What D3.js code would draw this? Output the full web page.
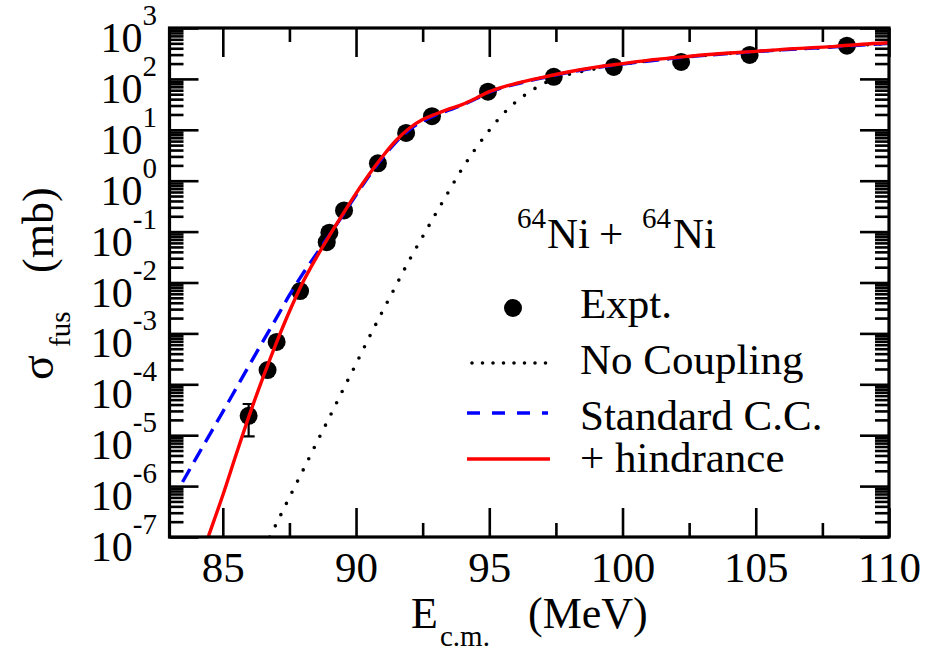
<!DOCTYPE html>
<html>
<head>
<meta charset="utf-8">
<script src="https://cdn.jsdelivr.net/npm/d3@7"></script>
<style>
  html, body { margin: 0; padding: 0; background: #fff; }
  svg { display: block; }
  text { font-family: "Liberation Serif", "Times New Roman", serif; fill: #000; }
</style>
</head>
<body>
<svg id="chart" width="933" height="656"></svg>
<script>
// ---------------- data ----------------
const xMajorTicks = [85, 90, 95, 100, 105, 110];
const xMinorTicks = [87.5, 92.5, 97.5, 102.5, 107.5];
const yExponents = [-7, -6, -5, -4, -3, -2, -1, 0, 1, 2, 3];

// experimental points
const exptE     = [85.97, 86.68, 87.02, 87.9, 88.9, 89.0, 89.55, 90.82, 91.88, 92.85, 94.95, 97.42, 99.67, 102.2, 104.77, 108.42];
const exptSigma = [2.4e-5, 1.9e-4, 6.8e-4, 6.8e-3, 0.062, 0.095, 0.26, 2.2, 8.7, 18.5, 56, 110, 172, 215, 295, 450];
// error bar on the lowest point
const errE = [85.97];
const errLow = [9.5e-6];
const errHigh = [4.1e-5];

// No coupling (log10 sigma)
const noCoupE    = [86.76, 87, 87.5, 88, 88.5, 89, 89.5, 90, 90.5, 91, 91.5, 92, 92.5, 93, 93.5, 94, 94.5, 95, 95.5, 96, 96.5, 97, 97.5, 98, 98.5, 99, 99.5, 100, 102, 104, 106, 108, 110];
const noCoupLog  = [-7.0, -6.75, -6.22, -5.7, -5.17, -4.65, -4.12, -3.6, -3.07, -2.56, -2.06, -1.56, -1.1, -0.64, -0.19, 0.25, 0.64, 0.99, 1.3, 1.55, 1.74, 1.9, 2.01, 2.09, 2.15, 2.2, 2.25, 2.29, 2.41, 2.5, 2.57, 2.63, 2.70];

// Standard C.C.
const stdE   = [83.49, 84, 85, 86, 86.5, 87, 87.5, 88, 88.5, 89, 89.5, 90, 90.5, 91, 91.5, 92, 92.5, 93, 93.5, 94, 94.5, 95, 95.5, 96, 97, 98, 99, 100, 102, 104, 106, 108, 110];
const stdLog = [-5.92, -5.45, -4.54, -3.62, -3.16, -2.71, -2.25, -1.83, -1.45, -1.07, -0.68, -0.28, 0.1, 0.45, 0.76, 1.0, 1.17, 1.29, 1.39, 1.49, 1.61, 1.74, 1.83, 1.9, 2.02, 2.13, 2.22, 2.29, 2.41, 2.5, 2.57, 2.63, 2.70];

// + hindrance
const hinE   = [84.3, 84.45, 85, 85.5, 86, 86.5, 87, 87.5, 88, 88.5, 89, 89.5, 90, 90.5, 91, 91.5, 92, 92.5, 93, 93.5, 94, 94.5, 95, 95.5, 96, 97, 98, 99, 100, 101, 102, 103, 104, 105, 106, 107, 108, 109, 110];
const hinLog = [-7.22, -7.0, -6.18, -5.38, -4.6, -3.88, -3.2, -2.57, -2.0, -1.52, -1.08, -0.66, -0.25, 0.13, 0.48, 0.79, 1.03, 1.2, 1.31, 1.41, 1.5, 1.62, 1.75, 1.84, 1.91, 2.03, 2.14, 2.23, 2.30, 2.37, 2.42, 2.47, 2.51, 2.54, 2.58, 2.61, 2.64, 2.68, 2.71];

const legendLabels = ["Expt.", "No Coupling", "Standard C.C.", "+ hindrance"];

// ---------------- layout ----------------
const svg = d3.select("#chart");
const L = 169.5, R = 889, T = 28, B = 537;

const x = d3.scaleLinear().domain([83, 110]).range([L, R]);
const y = d3.scaleLog().domain([1e-7, 1e3]).range([B, T]);

const yMajor = yExponents.map(e => Math.pow(10, e));
const yMinor = [];
yExponents.slice(0, -1).forEach(e => { for (let k = 2; k <= 9; k++) yMinor.push(k * Math.pow(10, e)); });

svg.append("defs").append("clipPath").attr("id", "clip")
  .append("rect").attr("x", L).attr("y", T).attr("width", R - L).attr("height", B - T);

// ---------------- axes (ticks inward) ----------------
function styleAxis(g) {
  g.select(".domain").remove();
  g.selectAll(".tick line").attr("stroke", "#000").attr("stroke-width", 2.6);
}
const majorLen = 29, minorLen = 14;

svg.append("g").attr("transform", `translate(0,${B})`)
  .call(d3.axisBottom(x).tickValues(xMajorTicks).tickSizeInner(-majorLen).tickSizeOuter(0)
        .tickPadding(14.5).tickFormat(d3.format("d")))
  .call(styleAxis)
  .call(g => g.selectAll("text").attr("font-size", 43).attr("font-family", "Liberation Serif, serif").attr("fill", "#000"));
svg.append("g").attr("transform", `translate(0,${B})`)
  .call(d3.axisBottom(x).tickValues(xMinorTicks).tickSizeInner(-minorLen).tickSizeOuter(0).tickFormat(""))
  .call(styleAxis);
svg.append("g").attr("transform", `translate(0,${T})`)
  .call(d3.axisTop(x).tickValues(xMajorTicks).tickSizeInner(-majorLen).tickSizeOuter(0).tickFormat(""))
  .call(styleAxis);
svg.append("g").attr("transform", `translate(0,${T})`)
  .call(d3.axisTop(x).tickValues(xMinorTicks).tickSizeInner(-minorLen).tickSizeOuter(0).tickFormat(""))
  .call(styleAxis);

svg.append("g").attr("transform", `translate(${L},0)`)
  .call(d3.axisLeft(y).tickValues(yMajor).tickSizeInner(-majorLen).tickSizeOuter(0).tickFormat(""))
  .call(styleAxis);
svg.append("g").attr("transform", `translate(${L},0)`)
  .call(d3.axisLeft(y).tickValues(yMinor).tickSizeInner(-minorLen).tickSizeOuter(0).tickFormat(""))
  .call(styleAxis);
svg.append("g").attr("transform", `translate(${R},0)`)
  .call(d3.axisRight(y).tickValues(yMajor).tickSizeInner(-majorLen).tickSizeOuter(0).tickFormat(""))
  .call(styleAxis);
svg.append("g").attr("transform", `translate(${R},0)`)
  .call(d3.axisRight(y).tickValues(yMinor).tickSizeInner(-minorLen).tickSizeOuter(0).tickFormat(""))
  .call(styleAxis);

// y tick labels 10^n
const yl = svg.append("g");
yExponents.forEach(e => {
  const ty = y(Math.pow(10, e));
  const t = yl.append("text").attr("x", 157).attr("y", ty + 24).attr("text-anchor", "end");
  t.append("tspan").attr("font-size", 42).text("10");
  t.append("tspan").attr("font-size", 29).attr("dy", -27).text(String(e));
});

// ---------------- curves ----------------
const plot = svg.append("g").attr("clip-path", "url(#clip)");
const mkLine = d3.line().x(d => x(d[0])).y(d => y(Math.pow(10, d[1]))).curve(d3.curveMonotoneX);

// experimental points + error bar
plot.selectAll("line.err").data(errE).join("line")
  .attr("x1", d => x(d)).attr("x2", d => x(d))
  .attr("y1", (d, i) => y(errLow[i])).attr("y2", (d, i) => y(errHigh[i]))
  .attr("stroke", "#000").attr("stroke-width", 2.2);
errE.forEach((d, i) => {
  [errLow[i], errHigh[i]].forEach(v => {
    plot.append("line").attr("x1", x(d) - 6).attr("x2", x(d) + 6)
      .attr("y1", y(v)).attr("y2", y(v)).attr("stroke", "#000").attr("stroke-width", 2.2);
  });
});
plot.selectAll("circle.expt").data(exptE).join("circle")
  .attr("cx", d => x(d)).attr("cy", (d, i) => y(exptSigma[i])).attr("r", 9).attr("fill", "#000");

plot.append("path").datum(noCoupE.map((e, i) => [e, noCoupLog[i]]))
  .attr("d", mkLine).attr("fill", "none").attr("stroke", "#000").attr("stroke-width", 3.6)
  .attr("stroke-linecap", "round").attr("stroke-dasharray", "0 12.5");
plot.append("path").datum(stdE.map((e, i) => [e, stdLog[i]]))
  .attr("d", mkLine).attr("fill", "none").attr("stroke", "#0000ff").attr("stroke-width", 3.4)
  .attr("stroke-dasharray", "15 8");
plot.append("path").datum(hinE.map((e, i) => [e, hinLog[i]]))
  .attr("d", mkLine).attr("fill", "none").attr("stroke", "#ff0000").attr("stroke-width", 3.4);

// frame
svg.append("rect").attr("x", L).attr("y", T).attr("width", R - L).attr("height", B - T)
  .attr("fill", "none").attr("stroke", "#000").attr("stroke-width", 3.2);

// ---------------- reaction label ----------------
const rl = svg.append("text").attr("y", 248).attr("font-size", 43);
rl.append("tspan").attr("x", 517).attr("dy", -20).attr("font-size", 29).text("64");
rl.append("tspan").attr("x", 547).attr("dy", 20).text("Ni");
rl.append("tspan").attr("x", 599).text("+");
rl.append("tspan").attr("x", 642).attr("dy", -20).attr("font-size", 29).text("64");
rl.append("tspan").attr("x", 673).attr("dy", 20).text("Ni");

// ---------------- legend ----------------
const lg = svg.append("g");
const lgBase = [318, 374, 430, 472];
const lgSym = [308, 363, 413, 459];
lg.append("circle").attr("cx", 513).attr("cy", lgSym[0]).attr("r", 9).attr("fill", "#000");
lg.append("line").attr("x1", 472).attr("x2", 548).attr("y1", lgSym[1]).attr("y2", lgSym[1])
  .attr("stroke", "#000").attr("stroke-width", 3.6).attr("stroke-linecap", "round").attr("stroke-dasharray", "0 10.5");
lg.append("line").attr("x1", 467).attr("x2", 548).attr("y1", lgSym[2]).attr("y2", lgSym[2])
  .attr("stroke", "#0000ff").attr("stroke-width", 3.4).attr("stroke-dasharray", "13 12");
lg.append("line").attr("x1", 467).attr("x2", 550).attr("y1", lgSym[3]).attr("y2", lgSym[3])
  .attr("stroke", "#ff0000").attr("stroke-width", 3.6);
legendLabels.forEach((s, i) => {
  lg.append("text").attr("x", 580).attr("y", lgBase[i]).attr("font-size", 43).text(s);
});

// ---------------- axis titles ----------------
const xt = svg.append("text").attr("y", 628).attr("font-size", 44);
xt.append("tspan").attr("x", 411).text("E");
xt.append("tspan").attr("x", 440).attr("dy", 18).attr("font-size", 29).text("c.m.");
xt.append("tspan").attr("x", 528).attr("dy", -18).text("(MeV)");

const ytl = svg.append("text").attr("transform", "translate(53,380) rotate(-90)").attr("font-size", 44);
ytl.append("tspan").attr("x", 0).attr("font-size", 46).text("σ");
ytl.append("tspan").attr("x", 33).attr("dy", 17).attr("font-size", 29).text("fus");
ytl.append("tspan").attr("x", 107).attr("dy", -17).text("(mb)");
</script>
</body>
</html>
